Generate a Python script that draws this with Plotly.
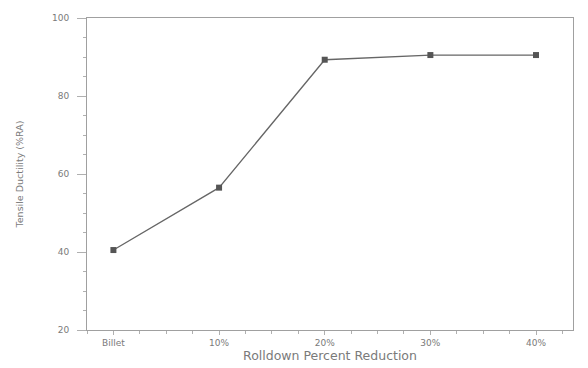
import plotly.graph_objects as go

categories = ["Billet", "10%", "20%", "30%", "40%"]
ductility = [40.5, 56.5, 89.3, 90.5, 90.5]
y_ticks = [20, 40, 60, 80, 100]

x_pos = list(range(len(categories)))

fig = go.Figure()
fig.add_trace(go.Scatter(
    x=x_pos, y=ductility, mode="lines+markers",
    line=dict(color="#666666", width=1.3),
    marker=dict(symbol="square", size=6, color="#555555"),
    showlegend=False,
))

axis_font = dict(family="DejaVu Sans, Liberation Sans, sans-serif", size=9, color="#7a7a7a")
# page body has an 8px default margin, so the figure is sized to fit the 588x368 window
fig.update_layout(
    width=580, height=360,
    margin=dict(l=79, r=15, t=10, b=38),
    plot_bgcolor="white", paper_bgcolor="white",
    font=axis_font,
)
fig.update_xaxes(
    range=[-0.25, 4.35], automargin=False,
    tickmode="array", tickvals=x_pos, ticktext=categories,
    showline=True, linecolor="#a0a0a0", linewidth=1, mirror=True,
    ticks="outside", ticklen=4, tickcolor="#b0b0b0",
    ticklabelstandoff=0,
    minor=dict(dtick=0.25, tick0=0, ticks="outside", ticklen=3, tickcolor="#b0b0b0", showgrid=False),
    showgrid=False, zeroline=False,
    title=dict(text="Rolldown Percent Reduction", font=dict(size=12.5, color="#7a7a7a"), standoff=2),
)
fig.update_yaxes(
    range=[20, 100], automargin=False,
    tickmode="array", tickvals=y_ticks,
    showline=True, linecolor="#a0a0a0", linewidth=1, mirror=True,
    ticks="outside", ticklen=9, tickcolor="#b0b0b0",
    ticklabelstandoff=6,
    minor=dict(dtick=5, tick0=0, ticks="outside", ticklen=3, tickcolor="#b0b0b0", showgrid=False),
    showgrid=False, zeroline=False,
    title=dict(text="Tensile Ductility (%RA)", font=dict(size=9.5, color="#7a7a7a"), standoff=26),
)

fig.write_html("out.html")
